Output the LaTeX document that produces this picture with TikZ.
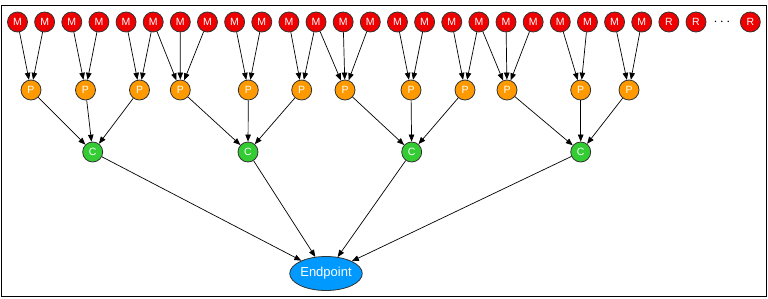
\documentclass[tikz,border=0pt]{standalone}
\usepackage{fontspec}
\setmainfont{Liberation Sans}
\usetikzlibrary{arrows.meta,shapes.geometric}
\definecolor{mred}{RGB}{238,0,0}
\definecolor{porange}{RGB}{255,153,0}
\definecolor{cgreen}{RGB}{51,204,51}
\definecolor{eblue}{RGB}{0,153,255}
\begin{document}
\begin{tikzpicture}[x=1pt,y=-1pt,
  dot/.style={circle,draw=black!80,line width=0.8pt,minimum size=20pt,inner sep=0pt,
    text=white,font=\fontsize{10.5}{12}\selectfont},
  mnode/.style={dot,fill=mred},
  pnode/.style={dot,fill=porange},
  cnode/.style={dot,fill=cgreen},
  enode/.style={ellipse,draw=black!80,line width=0.8pt,fill=eblue,minimum width=67pt,minimum height=34pt,
    inner sep=0pt,text=white,font=\fontsize{13}{15}\selectfont},
  arr/.style={-{Triangle[length=7pt,width=5.5pt]},line width=0.7pt,black}]
\useasboundingbox (0,0) rectangle (768,298);
\draw[line width=1.3pt] (1.5,5.5) rectangle (766.5,296.5);
% top row
\foreach \i in {0,...,23} {
  \node[mnode] (m\i) at ({17.5+27.14*\i},22) {M};
}
\node[mnode] (r24) at ({17.5+27.14*24},22) {R};
\node[mnode] (r25) at ({17.5+27.14*25},22) {R};
\node[font=\fontsize{15}{16}\selectfont] (dots) at (722,22) {$\cdots$};
\node[mnode] (r27) at (750.3,22) {R};
% P row
\node[pnode] (p0) at (31,90) {P};
\node[pnode] (p1) at (85.5,90) {P};
\node[pnode] (p2) at (139.5,90) {P};
\node[pnode] (p3) at (180.3,90) {P};
\node[pnode] (p4) at (248.3,90) {P};
\node[pnode] (p5) at (301.7,90) {P};
\node[pnode] (p6) at (345,90) {P};
\node[pnode] (p7) at (411,90) {P};
\node[pnode] (p8) at (465,90) {P};
\node[pnode] (p9) at (507,90) {P};
\node[pnode] (p10) at (580.7,90) {P};
\node[pnode] (p11) at (629,90) {P};
% C row
\node[cnode] (c0) at (92.7,152) {C};
\node[cnode] (c1) at (248,152) {C};
\node[cnode] (c2) at (411.7,152) {C};
\node[cnode] (c3) at (580.7,152) {C};
% endpoint
\node[enode] (ep) at (326,273.5) {Endpoint};
% M -> P
\foreach \m/\p in {0/0,1/0,2/1,3/1,4/2,5/2,5/3,6/3,7/3,8/4,9/4,10/5,11/5,11/6,12/6,13/6,
  14/7,15/7,16/8,17/8,17/9,18/9,19/9,20/10,21/10,22/11,23/11} {
  \draw[arr] (m\m) -- (p\p);
}
% P -> C
\foreach \p/\c in {0/0,1/0,2/0,3/1,4/1,5/1,6/2,7/2,8/2,9/3,10/3,11/3} {
  \draw[arr] (p\p) -- (c\c);
}
% C -> Endpoint
\foreach \c in {0,1,2,3} {
  \draw[arr] (c\c) -- (ep);
}
\end{tikzpicture}
\end{document}
